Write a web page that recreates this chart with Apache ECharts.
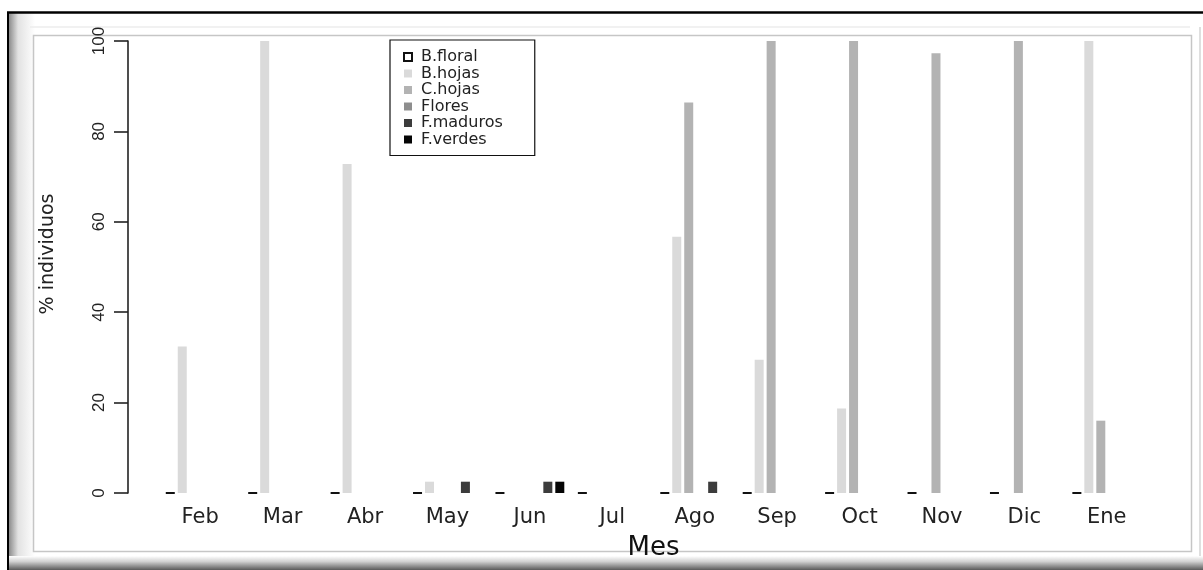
<!DOCTYPE html>
<html>
<head>
<meta charset="utf-8">
<title>% individuos por mes</title>
<script src="https://cdn.jsdelivr.net/npm/echarts@6/dist/echarts.min.js"></script>
<style>
html,body{margin:0;padding:0;background:#fff;}
#chart{width:1203px;height:570px;}
</style>
</head>
<body>
<div id="chart"></div>
<script>
// meses
var meses=['Feb','Mar','Abr','May','Jun','Jul','Ago','Sep','Oct','Nov','Dic','Ene'];
var yTicks=[0,20,40,60,80,100];
// % individuos por fenofase
var bFloral=[0,0,0,0,0,0,0,0,0,0,0,0];
var bHojas=[32.4,100,72.8,2.5,0,0,56.7,29.5,18.7,0,0,100];
var cHojas=[0,0,0,0,0,0,86.4,100,100,97.3,100,16];
var flores=[0,0,0,0,0,0,0,0,0,0,0,0];
var fMaduros=[0,0,0,2.5,2.5,0,2.5,0,0,0,0,0];
var fVerdes=[0,0,0,0,2.5,0,0,0,0,0,0,0];

var nombres=['B.floral','B.hojas','C.hojas','Flores','F.maduros','F.verdes'];
var datos=[bFloral,bHojas,cHojas,flores,fMaduros,fVerdes];
var colores=['#ffffff','#dadada','#b3b3b3','#8e8e8e','#3c3c3c','#050505'];

var fuente='"DejaVu Sans", Verdana, sans-serif';
var fuenteNum='"Liberation Sans", Arial, sans-serif';

var series=[];
for(var i=0;i<nombres.length;i++){
	var s={
		name:nombres[i],
		type:'bar',
		data:datos[i],
		barWidth:9,
		barGap:'33%',
		itemStyle:{color:colores[i]}
	};
	if(i==0){
		s.itemStyle={color:'#fff',borderColor:'#111',borderWidth:1.8};
	}
	series.push(s);
}

// marco decorativo de la imagen
var marco=[
	{type:'rect',z:0,silent:true,shape:{x:9,y:13,width:26,height:557},
		style:{fill:new echarts.graphic.LinearGradient(0,0,1,0,[{offset:0,color:'#8c8c8c'},{offset:0.35,color:'#e2e2e2'},{offset:1,color:'#ffffff'}])}},
	{type:'rect',z:0,silent:true,shape:{x:9,y:556,width:1194,height:14},
		style:{fill:new echarts.graphic.LinearGradient(0,0,0,1,[{offset:0,color:'#ffffff'},{offset:0.4,color:'#d0d0d0'},{offset:1,color:'#5a5a5a'}])}},
	{type:'line',z:1,silent:true,shape:{x1:8,y1:12,x2:8,y2:570},style:{stroke:'#000',lineWidth:2}},
	{type:'line',z:1,silent:true,shape:{x1:7,y1:12.5,x2:1203,y2:12.5},style:{stroke:'#000',lineWidth:2.5}},
	{type:'line',z:0,silent:true,shape:{x1:30,y1:27,x2:1190,y2:27},style:{stroke:'#ececec',lineWidth:1.5}},
	{type:'line',z:0,silent:true,shape:{x1:1200,y1:27,x2:1200,y2:556},style:{stroke:'#d4d4d4',lineWidth:1.5}},
	{type:'rect',z:0,silent:true,shape:{x:33.5,y:35.5,width:1158,height:516},
		style:{fill:null,stroke:'#c6c6c6',lineWidth:1.5}}
];

var chart=echarts.init(document.getElementById('chart'));
var option={
	backgroundColor:'#fff',
	animation:false,
	graphic:marco,
	grid:{left:159,right:55,top:41,bottom:77},
	legend:{
		orient:'vertical',
		left:390,
		top:40,
		padding:[9,32,8,13],
		itemWidth:8,
		itemHeight:8,
		itemGap:0.5,
		backgroundColor:'#fff',
		borderColor:'#111',
		borderWidth:1.2,
		borderRadius:0,
		icon:'rect',
		textStyle:{fontFamily:fuente,fontSize:16,color:'#222',padding:[0,0,0,4]},
		data:nombres
	},
	xAxis:{
		type:'category',
		data:meses,
		name:'Mes',
		nameLocation:'middle',
		nameGap:42,
		nameTextStyle:{fontFamily:fuente,fontSize:26,color:'#111'},
		axisLine:{show:false},
		axisTick:{show:false},
		axisLabel:{fontFamily:fuente,fontSize:21,color:'#222',margin:14}
	},
	yAxis:{
		type:'value',
		min:yTicks[0],
		max:yTicks[yTicks.length-1],
		interval:20,
		offset:31,
		name:'% individuos',
		nameLocation:'middle',
		nameGap:70,
		nameRotate:90,
		nameTextStyle:{fontFamily:fuente,fontSize:19,color:'#222',padding:[0,0,0,26]},
		axisLine:{show:true,lineStyle:{color:'#222',width:1.6}},
		axisTick:{show:true,length:14,lineStyle:{color:'#222',width:1.6}},
		splitLine:{show:false},
		axisLabel:{fontFamily:fuenteNum,fontSize:17,color:'#222',rotate:90,margin:20}
	},
	series:series
};
chart.setOption(option);
</script>
</body>
</html>
